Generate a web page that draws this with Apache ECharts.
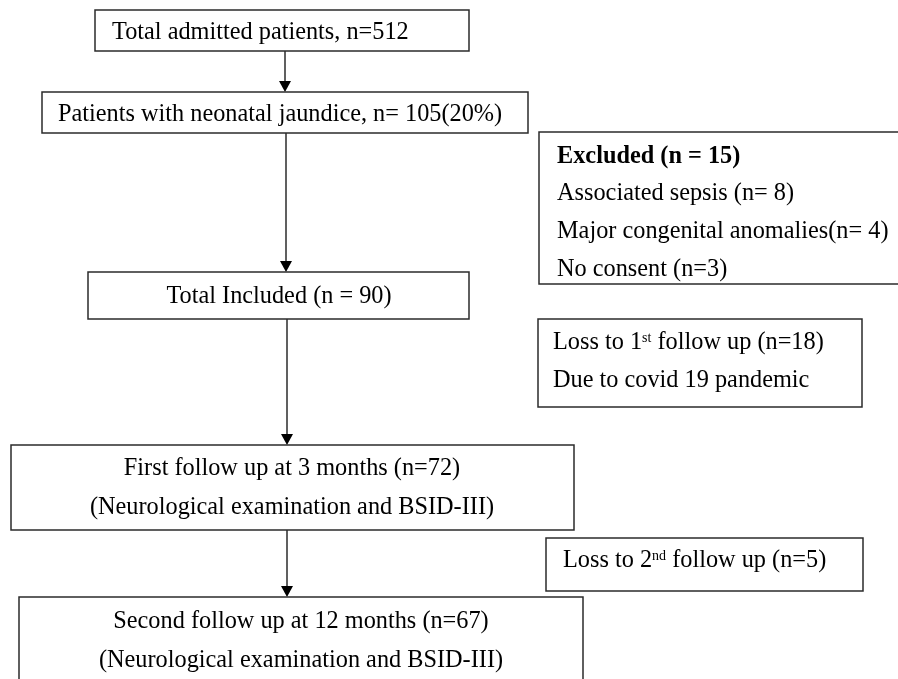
<!DOCTYPE html>
<html><head><meta charset="utf-8">
<script src="https://cdn.jsdelivr.net/npm/echarts@6/dist/echarts.min.js"></script>
<style>html,body{margin:0;padding:0;background:#fff}#chart{width:898px;height:679px}</style>
</head><body><div id="chart"></div>
<script>
// ---- data ----
const stageNames = ['Total admitted patients', 'Patients with neonatal jaundice', 'Total Included', 'First follow up at 3 months', 'Second follow up at 12 months'];
const stageCounts = [512, 105, 90, 72, 67];
const jaundicePercent = [20];
const excludedTotal = [15];
const exclusionReasons = ['Associated sepsis', 'Major congenital anomalies', 'No consent'];
const exclusionCounts = [8, 4, 3];
const lossCounts = [18, 5];
const lossReason = 'Due to covid 19 pandemic';
const followupNote = '(Neurological examination and BSID-III)';

// ---- text built from data ----
const boxLines = [
  [stageNames[0] + ', n=' + stageCounts[0]],
  [stageNames[1] + ', n= ' + stageCounts[1] + '(' + jaundicePercent[0] + '%)'],
  ['{b|Excluded (n = ' + excludedTotal[0] + ')}',
   exclusionReasons[0] + ' (n= ' + exclusionCounts[0] + ')',
   exclusionReasons[1] + '(n= ' + exclusionCounts[1] + ')',
   exclusionReasons[2] + ' (n=' + exclusionCounts[2] + ')'],
  [stageNames[2] + ' (n = ' + stageCounts[2] + ')'],
  ['Loss to 1{s|st} follow up (n=' + lossCounts[0] + ')', lossReason],
  [stageNames[3] + ' (n=' + stageCounts[3] + ')', followupNote],
  ['Loss to 2{s|nd} follow up (n=' + lossCounts[1] + ')'],
  [stageNames[4] + ' (n=' + stageCounts[4] + ')', followupNote]
];

// ---- layout (positions / sizes) ----
const boxRects = [[95,10,469,51],[42,92,528,133],[539,132,906,284],[88,272,469,319],[538,319,862,407],[11,445,574,530],[546,538,863,591],[19,597,583,705]];
const textLayout = [
  {align:'left', x:112, ys:[33]},
  {align:'left', x:58, ys:[115]},
  {align:'left', x:557, ys:[157,194,232,270]},
  {align:'center', x:279, ys:[297]},
  {align:'left', x:553, ys:[343,381]},
  {align:'center', x:292, ys:[469,508]},
  {align:'left', x:563, ys:[561]},
  {align:'center', x:301, ys:[622,661]}
];
const arrowLayout = [[285,51,92],[286,133,272],[287,319,445],[287,530,597]];

const FONT = 'Liberation Serif, Times New Roman, serif';
const FS = 24.3;
const richStyles = {
  b: {fontWeight:'bold', fontSize:FS, fontFamily:FONT, fill:'#000'},
  s: {fontSize:14, fontFamily:FONT, verticalAlign:'top', fill:'#000'}
};

function renderBox(params, api) {
  const i = params.dataIndex;
  const r = boxRects[i];
  const p1 = api.coord([r[0], r[1]]), p2 = api.coord([r[2], r[3]]);
  const children = [{
    type:'rect',
    shape:{x:p1[0], y:p1[1], width:p2[0]-p1[0], height:p2[1]-p1[1]},
    style:{fill:'#fff', stroke:'#2b2b2b', lineWidth:1.5}
  }];
  const lay = textLayout[i];
  boxLines[i].forEach(function(t, k) {
    const pos = api.coord([lay.x, lay.ys[k]]);
    children.push({
      type:'text', x:pos[0], y:pos[1],
      style:{text:t, rich:richStyles, fontFamily:FONT, fontSize:FS, fill:'#000', align:lay.align, verticalAlign:'middle'}
    });
  });
  return {type:'group', children:children};
}

function renderArrow(params, api) {
  const a = arrowLayout[params.dataIndex];
  const s = api.coord([a[0], a[1]]), e = api.coord([a[0], a[2]]);
  const h = 11, w = 6;
  return {type:'group', children:[
    {type:'line', shape:{x1:s[0], y1:s[1], x2:e[0], y2:e[1]-h+1}, style:{stroke:'#2b2b2b', lineWidth:1.5}},
    {type:'polygon', shape:{points:[[e[0]-w, e[1]-h],[e[0]+w, e[1]-h],[e[0], e[1]]]}, style:{fill:'#000'}}
  ]};
}

const chart = echarts.init(document.getElementById('chart'));
chart.setOption({
  animation:false,
  backgroundColor:'#fff',
  grid:{left:0, right:0, top:0, bottom:0},
  xAxis:{type:'value', min:0, max:898, show:false},
  yAxis:{type:'value', min:0, max:679, inverse:true, show:false},
  series:[
    {type:'custom', renderItem:renderArrow, data:arrowLayout.map(function(_, i){return i;}), z:1},
    {type:'custom', renderItem:renderBox, data:boxRects.map(function(_, i){return i;}), z:2}
  ]
});
</script>
</body></html>
